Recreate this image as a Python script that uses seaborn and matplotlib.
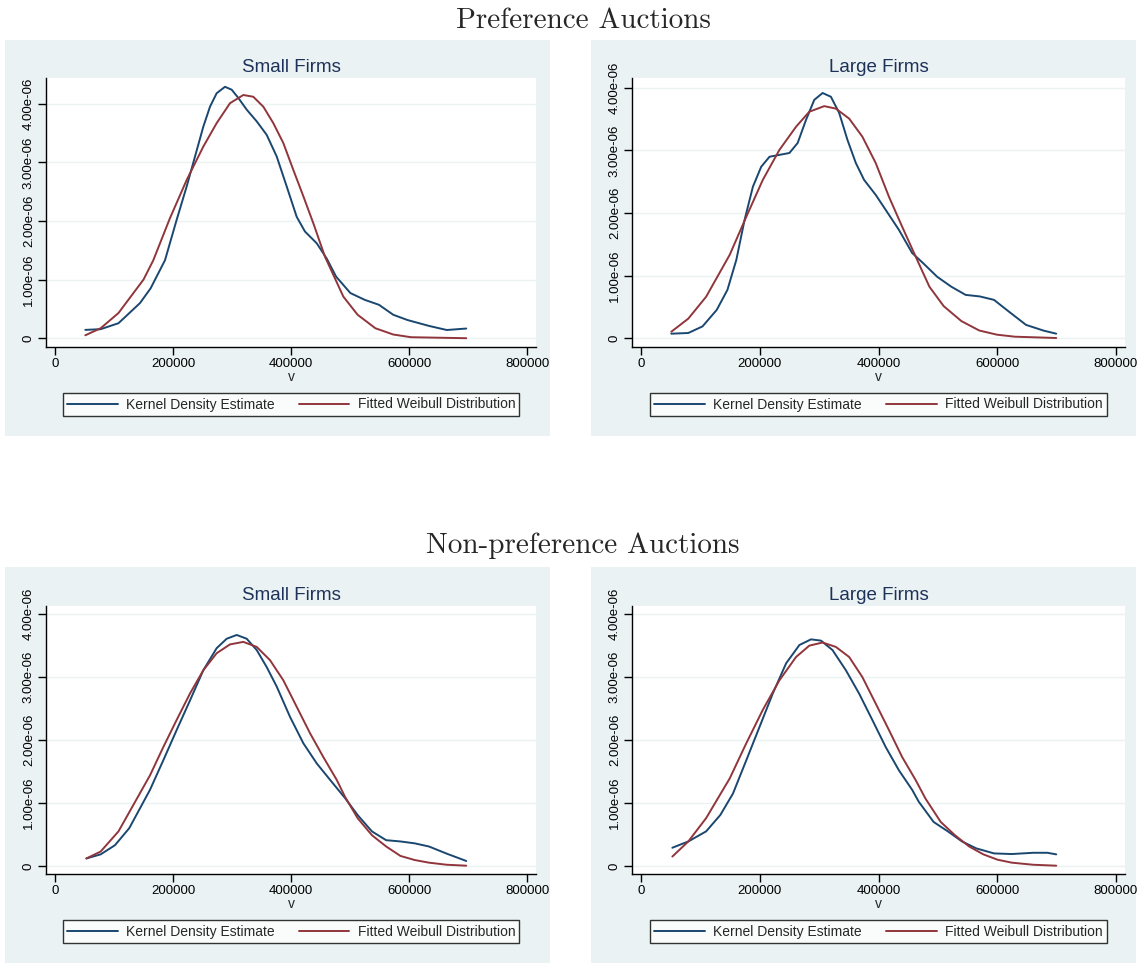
import numpy as np
import pandas as pd
import matplotlib
matplotlib.use("Agg")
import matplotlib.pyplot as plt
from matplotlib.patches import Rectangle
from matplotlib.lines import Line2D
import seaborn as sns

# values (density in units of 1e-06)
# --- preference auctions, small firms
tl_kde_x = [51400, 77400, 107600, 143900, 162000, 186400, 206200, 223200, 237300, 251400,
            262700, 274000, 288100, 299500, 310700, 324900, 341900, 358800, 375800, 392700,
            409700, 423700, 443600, 460500, 476500, 500700, 524900, 549100, 573300, 597500,
            633800, 664000, 697000]
tl_kde_y = [0.142, 0.154, 0.256, 0.598, 0.85, 1.33, 2.02, 2.59, 3.10, 3.61,
            3.95, 4.18, 4.29, 4.24, 4.10, 3.90, 3.70, 3.47, 3.10, 2.59,
            2.07, 1.82, 1.62, 1.36, 1.05, 0.77, 0.655, 0.57, 0.40, 0.31,
            0.21, 0.14, 0.165]
tl_wei_x = [51400, 77400, 107600, 150000, 166600, 194900, 223200, 251400, 274000, 296600,
            319200, 336100, 353100, 370000, 387000, 404000, 421000, 437900, 457600, 488700,
            512900, 543000, 573300, 603300, 697000]
tl_wei_y = [0.05, 0.17, 0.43, 1.0, 1.33, 2.05, 2.70, 3.27, 3.67, 4.01,
            4.15, 4.12, 3.95, 3.67, 3.33, 2.87, 2.42, 1.96, 1.39, 0.71,
            0.40, 0.17, 0.063, 0.017, 0.0]

# --- preference auctions, large firms
tr_kde_x = [50900, 79600, 103600, 127500, 145500, 160500, 174400, 188400, 202400, 216400,
            233100, 249900, 263800, 277900, 291800, 305800, 319800, 333800, 347700, 361800,
            375700, 395300, 412100, 434400, 456700, 474900, 498800, 522800, 546700, 570700,
            594600, 618600, 648500, 678500, 699400]
tr_kde_y = [0.069, 0.08, 0.186, 0.45, 0.77, 1.25, 1.89, 2.42, 2.74, 2.90,
            2.93, 2.96, 3.12, 3.49, 3.81, 3.92, 3.86, 3.60, 3.17, 2.80,
            2.53, 2.29, 2.05, 1.73, 1.36, 1.20, 0.98, 0.82, 0.69, 0.665,
            0.61, 0.43, 0.21, 0.117, 0.069]
tr_wei_x = [50900, 79600, 109600, 149300, 177300, 205100, 233100, 261100, 283400, 308600,
            328200, 350600, 372900, 395300, 417600, 439900, 465100, 485800, 509800, 539700,
            569700, 599600, 629600, 699400]
tr_wei_y = [0.10, 0.31, 0.66, 1.33, 1.94, 2.53, 3.01, 3.38, 3.62, 3.71,
            3.67, 3.51, 3.22, 2.80, 2.26, 1.78, 1.25, 0.82, 0.51, 0.27,
            0.12, 0.053, 0.021, 0.0]

# --- non-preference auctions, small firms
bl_kde_x = [53200, 77400, 101600, 125800, 161000, 183600, 206200, 228800, 251400, 274000,
            291000, 308000, 324900, 341900, 358800, 375800, 398300, 420900, 443600, 466100,
            491500, 512900, 537100, 561300, 585500, 609700, 633800, 664000, 697000]
bl_kde_y = [0.12, 0.185, 0.33, 0.60, 1.21, 1.68, 2.16, 2.63, 3.11, 3.46,
            3.61, 3.67, 3.61, 3.43, 3.16, 2.85, 2.37, 1.95, 1.63, 1.37,
            1.08, 0.81, 0.55, 0.41, 0.39, 0.36, 0.31, 0.196, 0.08]
bl_wei_x = [53200, 77400, 107600, 161000, 183600, 206200, 228800, 251400, 274000, 296600,
            319200, 341900, 364400, 387000, 409600, 432200, 454800, 477400, 491500, 512900,
            537100, 561300, 585500, 609700, 633800, 664000, 697000]
bl_wei_y = [0.12, 0.23, 0.55, 1.44, 1.89, 2.32, 2.74, 3.11, 3.38, 3.52,
            3.56, 3.48, 3.27, 2.95, 2.53, 2.11, 1.73, 1.37, 1.10, 0.76,
            0.49, 0.31, 0.16, 0.095, 0.053, 0.02, 0.005]

# --- non-preference auctions, large firms
br_kde_x = [52700, 79600, 109600, 133500, 154800, 177300, 199600, 221900, 244400, 266700,
            286300, 303100, 322500, 345000, 367300, 389600, 412100, 434400, 456700, 467900,
            492800, 516800, 540700, 564700, 594600, 624600, 660500, 684400, 699400]
br_kde_y = [0.29, 0.39, 0.55, 0.81, 1.15, 1.68, 2.21, 2.74, 3.22, 3.51,
            3.60, 3.58, 3.43, 3.11, 2.74, 2.32, 1.89, 1.52, 1.21, 1.02,
            0.70, 0.55, 0.39, 0.28, 0.20, 0.19, 0.21, 0.21, 0.185]
br_wei_x = [52700, 79600, 109600, 149300, 177300, 205100, 233100, 261100, 283400, 305800,
            328200, 350600, 372900, 395300, 417600, 439900, 462300, 479200, 504800, 528700,
            552700, 576600, 600600, 624600, 660500, 699400]
br_wei_y = [0.15, 0.39, 0.76, 1.39, 1.95, 2.48, 2.95, 3.32, 3.50, 3.55,
            3.48, 3.32, 3.00, 2.58, 2.16, 1.73, 1.37, 1.07, 0.70, 0.49,
            0.31, 0.185, 0.10, 0.053, 0.02, 0.005]

x_ticks = [0, 200000, 400000, 600000, 800000]
y_ticks = [0, 1, 2, 3, 4]
y_tick_labels = ["0", "1.00e-06", "2.00e-06", "3.00e-06", "4.00e-06"]
group_titles = ["Preference Auctions", "Non-preference Auctions"]
panel_titles = ["Small Firms", "Large Firms"]
legend_labels = ["Kernel Density Estimate", "Fitted Weibull Distribution"]

NAVY = "#1a476f"
MAROON = "#90353b"
BG = "#eaf2f3"
TITLE_COL = "#1e3259"

sns.set_theme(style="white")
plt.rcParams['font.family'] = ['Liberation Sans', 'DejaVu Sans']

W, H = 1138, 963
fig = plt.figure(figsize=(W / 100, H / 100), dpi=100)


def fx(px):
    return px / W


def fy(py):
    return 1 - py / H


# panel layout in pixels: bg left/top, axes left/right/top/bottom, y range
panels = [
    (tl_kde_x, tl_kde_y, tl_wei_x, tl_wei_y, 0, 0, 5, 40, 46, 536, 78, 347, (-0.15, 4.44)),
    (tr_kde_x, tr_kde_y, tr_wei_x, tr_wei_y, 0, 1, 591, 40, 632, 1125, 78, 347, (-0.144, 4.16)),
    (bl_kde_x, bl_kde_y, bl_wei_x, bl_wei_y, 1, 0, 5, 567, 46, 536, 606, 874, (-0.127, 4.13)),
    (br_kde_x, br_kde_y, br_wei_x, br_wei_y, 1, 1, 591, 567, 632, 1125, 606, 874, (-0.127, 4.13)),
]

for kx, ky, wx, wy, row, col, bgl, bgt, al, ar, at, ab, ylim in panels:
    fig.patches.append(Rectangle((fx(bgl), fy(bgt + 396)), 545 / W, 396 / H,
                                 transform=fig.transFigure, facecolor=BG,
                                 edgecolor="none", zorder=-5))
    ax = fig.add_axes([fx(al), fy(ab), (ar - al) / W, (ab - at) / H])
    ax.set_zorder(3)
    ax.set_facecolor("white")
    df_k = pd.DataFrame({"v": kx, "d": np.array(ky) * 1e-6})
    df_w = pd.DataFrame({"v": wx, "d": np.array(wy) * 1e-6})
    sns.lineplot(data=df_k, x="v", y="d", color=NAVY, lw=1.4, ax=ax, sort=False, estimator=None)
    sns.lineplot(data=df_w, x="v", y="d", color=MAROON, lw=1.4, ax=ax, sort=False, estimator=None)
    ax.set_xlim(-15250, 815250)
    ax.set_ylim(ylim[0] * 1e-6, ylim[1] * 1e-6)
    ax.set_xticks(x_ticks)
    ax.set_xticklabels([str(t) for t in x_ticks], fontsize=9.5)
    ax.set_yticks([t * 1e-6 for t in y_ticks])
    ax.set_yticklabels(y_tick_labels, fontsize=9.5, rotation=90, va="center")
    ax.yaxis.grid(True, color=BG, lw=1)
    ax.xaxis.grid(False)
    ax.set_axisbelow(True)
    ax.tick_params(axis="both", direction="out", length=6, width=1, color="black",
                   left=True, bottom=True, pad=2, labelcolor="black")
    for s in ["top", "right"]:
        ax.spines[s].set_visible(False)
    for s in ["left", "bottom"]:
        ax.spines[s].set_color("black")
        ax.spines[s].set_linewidth(1)
    ax.set_xlabel("v", fontsize=10, labelpad=0)
    ax.set_ylabel("")
    fig.text(fx((al + ar) / 2), fy(at - 10), panel_titles[col], ha="center", va="center",
             fontsize=13.5, color=TITLE_COL)
    handles = [Line2D([], [], color=NAVY, lw=1.4), Line2D([], [], color=MAROON, lw=1.4)]
    leg = ax.legend(handles, legend_labels, ncol=2, loc="center",
                    bbox_to_anchor=(fx((al + ar) / 2), fy(ab + 57.5)),
                    bbox_transform=fig.transFigure, fontsize=10, frameon=True,
                    fancybox=False, edgecolor="black", handlelength=3.67,
                    handletextpad=0.58, columnspacing=1.73,
                    borderpad=0.3, borderaxespad=0)
    leg.get_frame().set_linewidth(1)
    leg.get_frame().set_facecolor("white")

fig.text(fx(583), fy(28), group_titles[0], ha="center", va="baseline",
         fontsize=21, family=["cmr10", "DejaVu Serif"])
fig.text(fx(583), fy(553), group_titles[1], ha="center", va="baseline",
         fontsize=21, family=["cmr10", "DejaVu Serif"])

fig.savefig("out.png", dpi=100, facecolor="white")
